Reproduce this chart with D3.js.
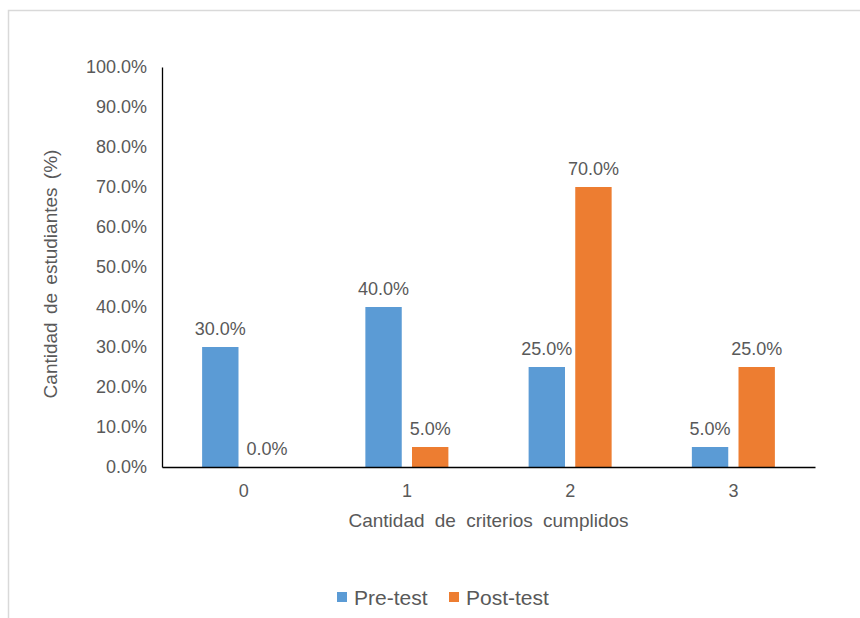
<!DOCTYPE html>
<html>
<head>
<meta charset="utf-8">
<script src="https://cdn.jsdelivr.net/npm/d3@7/dist/d3.min.js"></script>
<style>
  html, body { margin: 0; padding: 0; background: #fff; }
  svg { display: block; }
  text { font-family: "Liberation Sans", Arial, sans-serif; fill: #595959; }
</style>
</head>
<body>
<svg id="chart" width="860" height="618"></svg>
<script>
const categories = ["0", "1", "2", "3"];
const seriesNames = ["Pre-test", "Post-test"];
const preTest = [30, 40, 25, 5];
const postTest = [0, 5, 70, 25];
const yTicks = [0, 10, 20, 30, 40, 50, 60, 70, 80, 90, 100];
const colors = ["#5B9BD5", "#ED7D31"];

(function () {
const svg = d3.select("#chart");
const plotLeft = 162, plotRight = 815, plotTop = 67, plotBottom = 467;

// frame
svg.append("rect").attr("x", 8.5).attr("y", 10.5).attr("width", 900).attr("height", 700)
  .attr("fill", "none").attr("stroke", "#d9d9d9").attr("stroke-width", 1.5);

const x0 = d3.scaleBand().domain(categories).range([plotLeft, plotRight]).paddingInner(0).paddingOuter(0);
const x1 = d3.scaleBand().domain(seriesNames).range([0, x0.bandwidth()]).paddingInner(0.22).paddingOuter(0.86);
const y = d3.scaleLinear().domain([0, 100]).range([plotBottom, plotTop]);

const data = categories.map((c, i) => ({cat: c, values: [
  {s: seriesNames[0], v: preTest[i], c: colors[0]},
  {s: seriesNames[1], v: postTest[i], c: colors[1]}
]}));

const groups = svg.append("g").selectAll("g").data(data).join("g")
  .attr("transform", d => `translate(${x0(d.cat)},0)`);

groups.selectAll("rect").data(d => d.values).join("rect")
  .attr("x", d => x1(d.s))
  .attr("y", d => y(d.v))
  .attr("width", x1.bandwidth())
  .attr("height", d => y(0) - y(d.v))
  .attr("fill", d => d.c);

groups.selectAll("text.lbl").data(d => d.values).join("text")
  .attr("class", "lbl")
  .attr("x", d => x1(d.s) + x1.bandwidth() / 2)
  .attr("y", d => y(d.v) - 12)
  .attr("text-anchor", "middle")
  .style("font-size", "18px")
  .text(d => d.v.toFixed(1) + "%");

// y axis
const yAxis = d3.axisLeft(y).tickValues(yTicks).tickSize(0).tickPadding(15)
  .tickFormat(d => d.toFixed(1) + "%");
const gy = svg.append("g").attr("transform", `translate(${plotLeft},0)`).call(yAxis);
gy.select(".domain").attr("stroke", "#000").attr("stroke-width", 1.3);
gy.selectAll("text").style("font-size", "18px").attr("fill", "#595959")
  .style("font-family", '"Liberation Sans", Arial, sans-serif');

// x axis
const xAxis = d3.axisBottom(x0).tickSize(0).tickPadding(17);
const gx = svg.append("g").attr("transform", `translate(0,${plotBottom})`).call(xAxis);
gx.select(".domain").attr("stroke", "#000").attr("stroke-width", 1.3);
gx.selectAll("text").style("font-size", "18px").attr("fill", "#595959")
  .style("font-family", '"Liberation Sans", Arial, sans-serif');

// axis titles
svg.append("text")
  .attr("x", (plotLeft + plotRight) / 2 + 0).attr("y", 527)
  .attr("text-anchor", "middle")
  .style("font-size", "19px").style("word-spacing", "5px")
  .text("Cantidad de criterios cumplidos");

svg.append("text")
  .attr("transform", `translate(57,${(plotTop + plotBottom) / 2 + 7}) rotate(-90)`)
  .attr("text-anchor", "middle")
  .style("font-size", "19px").style("word-spacing", "3px")
  .text("Cantidad de estudiantes (%)");

// legend
const legend = svg.append("g");
const legendItems = [
  {name: seriesNames[0], color: colors[0], x: 337},
  {name: seriesNames[1], color: colors[1], x: 449}
];
const li = legend.selectAll("g").data(legendItems).join("g")
  .attr("transform", d => `translate(${d.x},592)`);
li.append("rect").attr("width", 10).attr("height", 10).attr("fill", d => d.color);
li.append("text").attr("x", 17).attr("y", 13).style("font-size", "21px").text(d => d.name);
})();
</script>
</body>
</html>
